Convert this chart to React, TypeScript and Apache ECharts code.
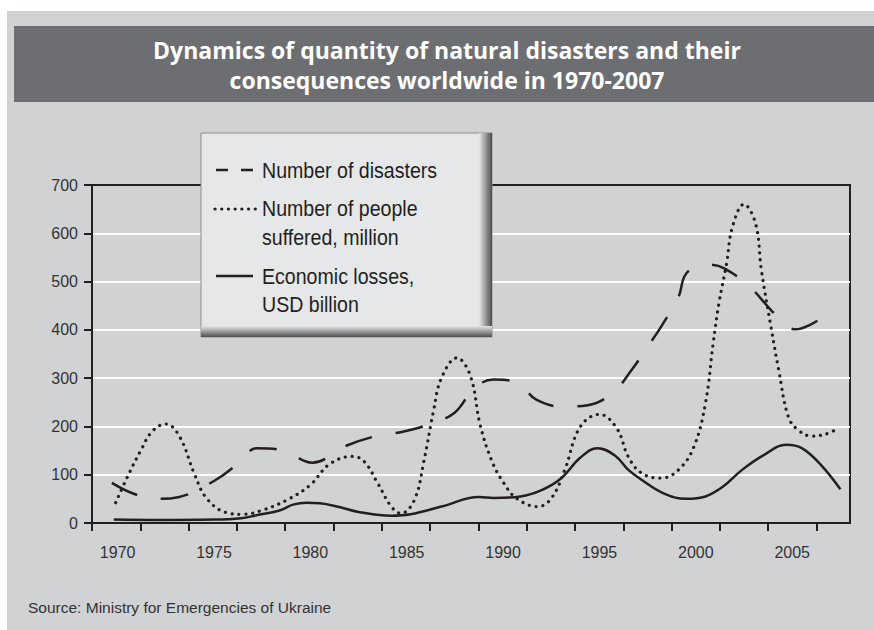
import React, { useEffect, useRef } from "react";
import * as echarts from "echarts";

// ---- data ----
const TITLE_LINES = [
  "Dynamics of quantity of natural disasters and their",
  "consequences worldwide in 1970-2007",
];
const SOURCE = "Source: Ministry for Emergencies of Ukraine";
const LEGEND_NAMES = ["Number of disasters", "Number of people\nsuffered, million", "Economic losses,\nUSD billion"];
const X_LABELS = [1970, 1975, 1980, 1985, 1990, 1995, 2000, 2005];
const Y_TICKS = [0, 100, 200, 300, 400, 500, 600, 700];

const DIS_YEARS = [1969.7, 1970.8, 1972.0, 1973.2, 1975.0, 1976.2, 1976.7, 1977.2, 1978.6, 1980.1, 1981.8, 1983.3, 1984.8, 1986.2, 1987.5, 1988.5, 1989.5, 1990.8, 1991.7, 1993.1, 1994.4, 1995.7, 1996.6, 1997.5, 1998.3, 1999.1, 1999.4, 1999.8, 2000.7, 2001.5, 2002.8, 2003.9, 2004.8, 2005.2, 2005.9, 2006.6, 2007.2];
const DISASTERS = [83, 61, 50, 54, 87, 122, 144, 155, 150, 125, 159, 179, 189, 205, 229, 279, 297, 289, 256, 241, 244, 270, 313, 365, 413, 468, 510, 526, 535, 527, 489, 441, 406, 401, 410, 427, 446];

const PPL_YEARS = [1969.9, 1970.5, 1971.2, 1971.8, 1972.5, 1973.2, 1974.0, 1974.6, 1975.6, 1976.5, 1977.4, 1978.8, 1980.0, 1981.0, 1982.2, 1982.8, 1983.5, 1984.2, 1984.7, 1985.4, 1985.9, 1986.4, 1986.8, 1987.6, 1988.3, 1988.8, 1989.4, 1990.0, 1990.7, 1991.8, 1992.5, 1993.2, 1994.0, 1995.0, 1995.9, 1996.5, 1997.2, 1998.2, 1999.1, 1999.9, 2000.5, 2000.9, 2001.2, 2001.6, 2001.9, 2002.5, 2003.1, 2003.4, 2003.9, 2004.3, 2004.8, 2005.3, 2006.0, 2006.9, 2007.3];
const PEOPLE = [42, 95, 150, 190, 205, 180, 100, 52, 22, 18, 25, 48, 79, 122, 138, 127, 82, 34, 20, 48, 130, 234, 300, 342, 305, 205, 130, 85, 51, 34, 51, 110, 199, 225, 196, 137, 103, 93, 110, 158, 248, 372, 455, 538, 613, 660, 620, 524, 406, 317, 220, 193, 180, 186, 195];

const LOSS_YEARS = [1969.8, 1972.0, 1975.0, 1976.4, 1977.2, 1978.4, 1979.1, 1979.8, 1980.5, 1981.5, 1982.5, 1984.2, 1985.2, 1986.8, 1988.75, 1989.5, 1990.9, 1992.0, 1993.0, 1994.0, 1994.9, 1995.8, 1996.5, 1997.2, 1998.3, 1999.5, 2000.5, 2001.4, 2002.4, 2003.5, 2004.7, 2005.5, 2006.5, 2007.5];
const LOSSES = [7, 6, 7, 10, 16, 26, 38, 42, 41, 33, 23, 15, 18, 34, 54, 52, 55, 68, 92, 135, 155, 140, 110, 89, 62, 50, 55, 75, 110, 140, 162, 155, 120, 70];

// ---- styling ----
const INK = "#231f20";
const PANEL = "#d1d2d4";
const TITLE_BG = "#6d6e71";
const LEGEND_BG = "#e6e7e8";
const SANS = "'Liberation Sans', Arial, sans-serif";
const X_MIN = 1968.67;
const X_MAX = 2008.0;
const TICK_STEP = 2.506;

const pair = (xs: number[], ys: number[]) => xs.map((x, i) => [x, ys[i]]);

export default function App() {
  const ref = useRef<HTMLDivElement>(null);
  useEffect(() => {
    document.body.style.margin = "0";
    const chart = echarts.init(ref.current!, null, { renderer: "svg" });
    const tickVals: number[] = [];
    for (let v = X_MIN; v < X_MAX - 0.5; v += TICK_STEP) tickVals.push(v);

    const legendSamples: any[] = [
      { type: "line", shape: { x1: 216, y1: 170, x2: 228, y2: 170 }, style: { stroke: INK, lineWidth: 2.5 } },
      { type: "line", shape: { x1: 241, y1: 170, x2: 253, y2: 170 }, style: { stroke: INK, lineWidth: 2.5 } },
      { type: "line", shape: { x1: 215, y1: 209, x2: 256, y2: 209 }, style: { stroke: INK, lineWidth: 3.2, lineDash: [0.1, 6.6], lineCap: "round" } },
      { type: "line", shape: { x1: 216, y1: 276, x2: 253, y2: 276 }, style: { stroke: INK, lineWidth: 2.5 } },
    ];
    const legendTexts = [
      { t: LEGEND_NAMES[0].split("\n")[0], y: 170 },
      { t: LEGEND_NAMES[1].split("\n")[0], y: 208 },
      { t: LEGEND_NAMES[1].split("\n")[1], y: 237 },
      { t: LEGEND_NAMES[2].split("\n")[0], y: 276 },
      { t: LEGEND_NAMES[2].split("\n")[1], y: 304 },
    ].map((o) => ({
      type: "text",
      x: 262,
      y: o.y,
      scaleX: 0.89,
      style: { text: o.t, fill: INK, font: `22px ${SANS}`, textVerticalAlign: "middle" },
    }));

    chart.setOption({
      animation: false,
      backgroundColor: "#ffffff",
      grid: { left: 92, top: 185, width: 758, height: 338, show: true, borderColor: INK, borderWidth: 2, backgroundColor: "transparent" },
      xAxis: {
        type: "value",
        min: X_MIN,
        max: X_MAX,
        axisLine: { lineStyle: { color: INK, width: 2 } },
        axisTick: { show: true, length: 8, lineStyle: { color: INK, width: 2 }, customValues: tickVals },
        axisLabel: { customValues: X_LABELS, color: "#333", fontFamily: SANS, fontSize: 16, margin: 21, formatter: (v: number) => String(Math.round(v)) },
        splitLine: { show: false },
      },
      yAxis: {
        type: "value",
        min: Y_TICKS[0],
        max: Y_TICKS[Y_TICKS.length - 1],
        interval: 100,
        axisLine: { show: true, lineStyle: { color: INK, width: 2 } },
        axisTick: { show: true, length: 8, lineStyle: { color: INK, width: 2 } },
        axisLabel: { color: "#333", fontFamily: SANS, fontSize: 16, margin: 14 },
        splitLine: { show: true, showMinLine: false, showMaxLine: false, lineStyle: { color: "#ffffff", width: 2 } },
      },
      series: [
        {
          name: LEGEND_NAMES[0], type: "line", smooth: 0.4, showSymbol: false, data: pair(DIS_YEARS, DISASTERS),
          lineStyle: { color: INK, width: 2.5, type: [28, 24] },
        },
        {
          name: LEGEND_NAMES[1], type: "line", smooth: 0.4, showSymbol: false, data: pair(PPL_YEARS, PEOPLE),
          lineStyle: { color: INK, width: 3.2, type: [0.1, 6.8], cap: "round" },
        },
        {
          name: LEGEND_NAMES[2], type: "line", smooth: 0.4, showSymbol: false, data: pair(LOSS_YEARS, LOSSES),
          lineStyle: { color: INK, width: 2.5 },
        },
      ],
      graphic: [
        { type: "rect", z: -100, shape: { x: 7, y: 11, width: 867, height: 619 }, style: { fill: PANEL } },
        { type: "rect", z: -99, shape: { x: 14, y: 26, width: 860, height: 76 }, style: { fill: TITLE_BG } },
        { type: "text", z: 10, x: 447, y: 50, style: { text: TITLE_LINES[0], fill: "#ffffff", font: "bold 23px 'Open Sans', sans-serif", textAlign: "center", textVerticalAlign: "middle" } },
        { type: "text", z: 10, x: 447, y: 80, style: { text: TITLE_LINES[1], fill: "#ffffff", font: "bold 23px 'Open Sans', sans-serif", textAlign: "center", textVerticalAlign: "middle" } },
        { type: "text", z: 10, x: 28, y: 607, style: { text: SOURCE, fill: "#333", font: `15.5px ${SANS}`, textVerticalAlign: "middle" } },
        {
          type: "group", z: 100, children: [
            { type: "rect", z: 100, shape: { x: 201, y: 133, width: 291, height: 204 }, style: { fill: LEGEND_BG, stroke: "#8e8f91", lineWidth: 1 } },
            {
              type: "rect", z: 101, shape: { x: 479, y: 133, width: 13, height: 204 },
              style: { fill: new echarts.graphic.LinearGradient(0, 0, 1, 0, [{ offset: 0, color: LEGEND_BG }, { offset: 1, color: "#4d4e50" }]) },
            },
            {
              type: "rect", z: 101, shape: { x: 201, y: 326, width: 291, height: 11 },
              style: { fill: new echarts.graphic.LinearGradient(0, 0, 0, 1, [{ offset: 0, color: LEGEND_BG }, { offset: 1, color: "#4d4e50" }]) },
            },
            ...legendSamples.map((s) => ({ ...s, z: 102 })),
            ...legendTexts.map((s) => ({ ...s, z: 102 })),
          ],
        },
      ],
    });
    return () => chart.dispose();
  }, []);
  return <div ref={ref} style={{ width: 874, height: 630 }} />;
}
